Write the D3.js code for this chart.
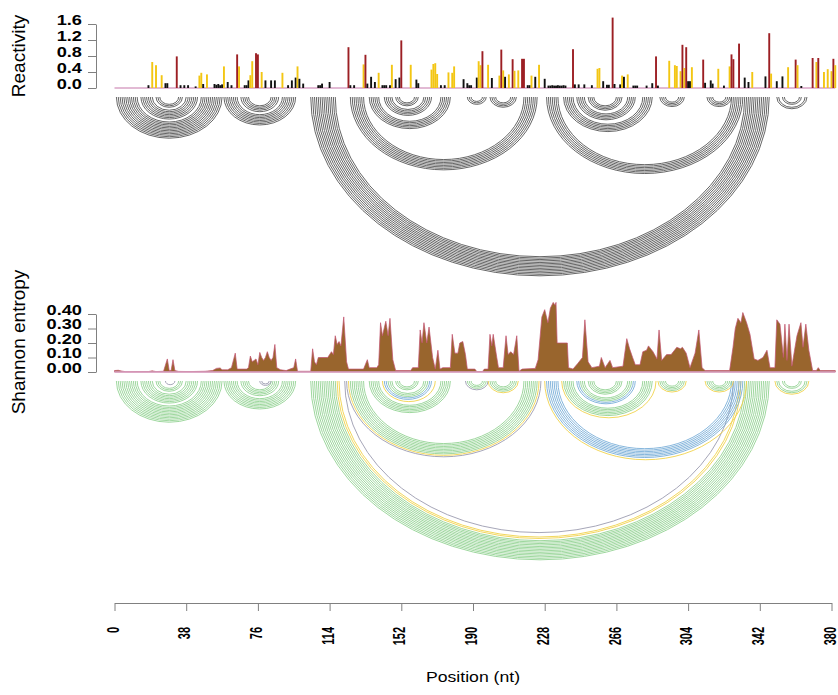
<!DOCTYPE html>
<html>
<head>
<meta charset="utf-8">
<script src="https://cdnjs.cloudflare.com/ajax/libs/d3/7.8.5/d3.min.js"></script>
<style>
  body { margin: 0; background: #fff; }
  text { font-family: "Liberation Sans", Arial, sans-serif; }
</style>
</head>
<body>
<div id="chart"></div>
<script>
var width = 838,
    height = 695,
    seqLength = 382;

// reactivity per position [nt, value]
var reactivity = [
  [18,0.07],[20,0.65],[22,0.57],[25,0.32],[27,0.12],[28,0.12],[33,0.79],[35,0.07],[37,0.07],[39,0.07],
  [43,0.04],[45,0.31],[46,0.38],[47,0.1],[49,0.34],[53,0.1],[54,0.08],[55,0.1],[56,0.07],[57,0.09],
  [58,0.54],[60,0.15],[62,0.07],[65,0.84],[66,0.54],[69,0.07],[70,0.07],[71,0.19],[72,0.32],[73,0.67],
  [75,0.87],[76,0.84],[78,0.4],[80,0.19],[83,0.19],[85,0.19],[89,0.38],[92,0.07],[94,0.19],[96,0.26],
  [97,0.54],[98,0.23],[100,0.11],[108,0.07],[109,0.07],[110,0.11],[114,0.15],[124,1.02],[125,0.07],[127,0.07],
  [132,0.59],[133,0.83],[134,0.11],[136,0.28],[138,0.15],[140,0.38],[142,0.07],[143,0.07],[144,0.07],[146,0.07],
  [147,0.58],[149,0.22],[151,0.26],[152,1.19],[157,0.58],[160,0.21],[161,0.12],[168,0.46],[169,0.6],[170,0.62],
  [171,0.35],[173,0.07],[175,0.07],[177,0.39],[179,0.38],[180,0.54],[185,0.22],[187,0.12],[188,0.07],[189,0.07],
  [192,0.26],[193,0.67],[194,0.57],[195,0.92],[198,0.58],[200,0.25],[204,0.31],[205,0.96],[206,0.44],[207,0.28],
  [209,0.34],[211,0.72],[212,0.43],[214,0.44],[216,0.73],[217,0.73],[219,0.07],[220,0.07],[221,0.31],[223,0.28],
  [225,0.58],[228,0.23],[230,0.06],[231,0.06],[232,0.07],[233,0.06],[234,0.06],[235,0.07],[236,0.06],[237,0.06],
  [238,0.07],[239,0.06],[243,0.97],[244,0.09],[246,0.09],[249,0.09],[253,0.07],[256,0.48],[257,0.5],[259,0.17],
  [261,0.08],[262,0.08],[264,1.76],[265,0.1],[268,0.09],[269,0.31],[270,0.28],[272,0.34],[275,0.06],[276,0.06],
  [277,0.06],[282,0.06],[285,0.12],[287,0.79],[288,0.06],[294,0.68],[297,0.57],[298,0.55],[300,0.42],[301,1.08],
  [302,0.5],[303,1.02],[304,0.17],[305,0.17],[306,0.52],[312,0.71],[313,0.13],[316,0.19],[317,0.11],[320,0.48],
  [323,0.06],[326,0.54],[327,0.84],[328,0.72],[331,1.11],[334,0.26],[336,0.15],[338,0.4],[345,0.29],[347,1.37],
  [348,0.36],[351,0.17],[354,0.29],[357,0.52],[361,0.71],[362,0.57],[364,0.05],[370,0.75],[372,0.65],[373,0.75],
  [376,0.4],[378,0.47],[380,0.42],[381,0.73],[382,0.57]
];

// shannon entropy [nt, value]
var entropy = [
  [0,0.01],[2,0.012],[4,0.006],[6,0.002],[18,0.003],[20,0.008],[22,0.003],[26,0.005],[28,0.09],[29,0.01],
  [30,0.01],[31,0.085],[32,0.01],[34,0.004],[40,0.003],[48,0.005],[52,0.01],[54,0.025],[56,0.028],[57,0.015],
  [60,0.015],[62,0.03],[64,0.13],[65,0.02],[67,0.02],[70,0.02],[71,0.03],[72,0.11],[73,0.07],[74,0.08],
  [75,0.09],[76,0.05],[77,0.135],[78,0.1],[79,0.08],[80,0.1],[81,0.14],[82,0.1],[83,0.08],[84,0.1],
  [85,0.19],[86,0.03],[88,0.015],[91,0.01],[93,0.02],[95,0.03],[96,0.09],[97,0.005],[104,0.005],[105,0.16],
  [106,0.07],[107,0.05],[108,0.1],[113,0.1],[114,0.12],[115,0.14],[116,0.12],[117,0.25],[118,0.19],[119,0.21],
  [120,0.18],[121.5,0.38],[123,0.07],[124,0.02],[132,0.02],[134,0.085],[135,0.03],[139,0.03],[140,0.05],[141,0.34],
  [142,0.25],[143.8,0.35],[145,0.25],[146,0.37],[147.5,0.085],[149,0.01],[157,0.01],[158,0.03],[161,0.03],[162,0.29],
  [163,0.2],[164,0.34],[165.5,0.2],[166.7,0.31],[168.6,0.1],[170,0.02],[171.4,0.15],[172.5,0.02],[174,0.03],[178,0.03],
  [179,0.26],[180.4,0.13],[182,0.13],[183,0.2],[184.6,0.21],[186,0.12],[187,0.02],[191,0.02],[192,0.003],[195,0.003],
  [196,0.02],[198,0.02],[199,0.26],[200,0.18],[200.7,0.26],[202.6,0.1],[203.5,0.03],[206,0.03],[207.5,0.25],[208.6,0.12],
  [210,0.14],[211.5,0.12],[213.2,0.25],[214.4,0.005],[216,0.02],[223,0.025],[224.5,0.085],[226.5,0.38],[228,0.43],[229.7,0.34],
  [231,0.44],[232.5,0.48],[233.5,0.46],[234,0.48],[234.6,0.2],[236,0.2],[240,0.2],[240.6,0.03],[243,0.02],[245.6,0.06],
  [248,0.1],[249.3,0.36],[251,0.07],[253,0.03],[257,0.04],[258,0.1],[260,0.03],[262.6,0.08],[264,0.03],[269.5,0.04],
  [271.5,0.23],[273,0.16],[274.6,0.1],[276,0.05],[278.5,0.05],[280,0.14],[282,0.15],[283,0.18],[285.4,0.14],[287.5,0.09],
  [288.6,0.29],[290,0.08],[292.6,0.12],[295,0.12],[298,0.17],[300,0.16],[301,0.17],[303,0.13],[305,0.03],[307.7,0.13],
  [309.7,0.29],[311.4,0.03],[313,0.01],[326,0.01],[327.8,0.17],[329,0.3],[330.4,0.37],[332,0.34],[333,0.41],[335,0.34],
  [336.8,0.26],[339,0.09],[341,0.08],[343.7,0.1],[345.8,0.15],[347.4,0.03],[350,0.03],[351,0.36],[352.7,0.33],[354.5,0.1],
  [355.3,0.33],[356.4,0.08],[357.5,0.33],[359,0.04],[361.7,0.25],[363.8,0.34],[364.9,0.17],[366.4,0.33],[368,0.15],[370,0.01],
  [372,0.01],[373,0.03],[374,0.01],[382,0.01]
];

// helices of the reference structure [i, j, length]
var topHelices = [
  [1,57,12],[14,44,7],[22,36,3],
  [58,96,8],[67,87,5],
  [104,347,14],
  [125,224,8],[135,178,6],[143,168,5],[149,161,3],
  [187,197,3],[199,213,4],
  [229,333,7],[238,285,6],[245,276,5],[251,269,4],
  [289,302,4],[314,327,4],
  [351,367,2],[354,364,2]
];

// helices of the ensemble comparison [i, j, length, class]
var bottomHelices = [
  [1,57,12,"g"],[14,44,7,"g"],[22,36,3,"g"],[27,32,1,"k"],
  [58,96,8,"g"],[67,87,5,"g"],[77,83,2,"k"],
  [104,347,14,"g"],[118,332,2,"y"],[122,328,1,"k"],
  [123,226,1,"k"],[124,225,1,"y"],
  [125,224,8,"g"],[135,178,6,"g"],[142,170,1,"y"],[143,168,2,"b"],[145,166,3,"g"],[149,161,3,"g"],
  [186,198,1,"k"],[187,197,3,"g"],[198,214,1,"y"],[199,213,4,"g"],
  [228,335,1,"y"],[229,333,7,"b"],[237,287,1,"y"],[238,285,6,"g"],[245,276,2,"b"],[247,274,3,"g"],[251,269,4,"g"],
  [288,303,1,"y"],[289,302,4,"g"],[313,328,1,"y"],[314,327,4,"g"],
  [350,368,1,"y"],[351,367,2,"g"],[354,364,2,"g"]
];

var positionTicks = [0, 38, 76, 114, 152, 190, 228, 266, 304, 342, 380];
var reactivityTicks = [0, 0.4, 0.8, 1.2, 1.6];
var entropyTicks = [0, 0.1, 0.2, 0.3, 0.4];

var x = d3.scaleLinear().domain([0, 380]).range([114.5, 831.5]);
var yR = d3.scaleLinear().domain([0, 1.6]).range([88, 24]);
var yE = d3.scaleLinear().domain([0, 0.4]).range([372, 314]);

var barColor = d3.scaleThreshold()
    .domain([0.3, 0.7])
    .range(["#111111", "#f3c613", "#9c1f24"]);
var pairColor = d3.scaleOrdinal()
    .domain(["g", "b", "y", "k"])
    .range(["#93d293", "#78aed8", "#f0d24c", "#9c9cb0"]);

var svg = d3.select("#chart").append("svg")
    .attr("width", width)
    .attr("height", height)
    .style("background", "#fff");

// expand a helix into its base pairs
function pairs(h) {
    var out = [];
    for (var k = 0; k < h[2]; k++) out.push({ i: h[0] + k, j: h[1] - k, c: h[3] });
    return out;
}

// half ellipse hanging below y0
function arcPath(d, y0) {
    var x0 = x(d.i), x1 = x(d.j),
        rx = (x1 - x0) / 2, ry = rx * 0.78;
    return "M" + x0 + "," + y0 + " A" + rx + "," + ry + " 0 0 0 " + x1 + "," + y0;
}

function yAxis(scale, ticks, fmt, label, labelY) {
    var g = svg.append("g")
        .attr("transform", "translate(96,0)")
        .call(d3.axisLeft(scale).tickValues(ticks).tickFormat(d3.format(fmt)).tickSize(8).tickSizeOuter(0));
    g.select(".domain").attr("stroke", "#808080");
    g.selectAll(".tick line").attr("stroke", "#808080");
    g.selectAll(".tick text")
        .attr("x", -10.8)
        .attr("dy", "0.02em")
        .attr("transform", "scale(1.3,1)")
        .style("font-size", "14px")
        .style("font-weight", "bold")
        .attr("fill", "#000");
    svg.append("text")
        .attr("transform", "translate(25," + labelY + ") rotate(-90)")
        .attr("text-anchor", "middle")
        .style("font-size", "19px")
        .text(label);
}

// ---- reactivity panel
yAxis(yR, reactivityTicks, ".1f", "Reactivity", 56);

svg.append("line")
    .attr("x1", x(0)).attr("x2", x(seqLength))
    .attr("y1", yR(0)).attr("y2", yR(0))
    .attr("stroke", "#d9a3c6").attr("stroke-width", 1.3);

svg.append("g").selectAll("rect")
    .data(reactivity)
    .enter().append("rect")
    .attr("x", function(d) { return x(d[0]) - 0.95; })
    .attr("width", 1.9)
    .attr("y", function(d) { return yR(d[1]); })
    .attr("height", function(d) { return yR(0) - yR(d[1]); })
    .attr("fill", function(d) { return barColor(d[1]); });

svg.append("g").selectAll("path")
    .data(d3.merge(topHelices.map(pairs)))
    .enter().append("path")
    .attr("d", function(d) { return arcPath(d, 97); })
    .attr("fill", "none")
    .attr("stroke", "#555555")
    .attr("stroke-width", 0.9);

// ---- entropy panel
yAxis(yE, entropyTicks, ".2f", "Shannon entropy", 342);

var area = d3.area()
    .x(function(d) { return x(d[0]); })
    .y0(yE(0))
    .y1(function(d) { return yE(d[1]); });

svg.append("path")
    .datum(entropy)
    .attr("d", area)
    .attr("fill", "#99652d")
    .attr("stroke", "#c2506e")
    .attr("stroke-width", 0.7);

svg.append("line")
    .attr("x1", x(0)).attr("x2", x(seqLength))
    .attr("y1", yE(0)).attr("y2", yE(0))
    .attr("stroke", "#d9a3c6").attr("stroke-width", 1.3);

svg.append("g").selectAll("path")
    .data(d3.merge(bottomHelices.map(pairs)))
    .enter().append("path")
    .attr("d", function(d) { return arcPath(d, 381); })
    .attr("fill", "none")
    .attr("stroke", function(d) { return pairColor(d.c); })
    .attr("stroke-width", 0.9);

// ---- position axis
var gx = svg.append("g")
    .attr("transform", "translate(0,603)")
    .call(d3.axisBottom(x).tickValues(positionTicks).tickSize(8).tickSizeOuter(0));
gx.select(".domain").attr("stroke", "#808080");
gx.selectAll(".tick line").attr("stroke", "#808080");
gx.selectAll(".tick text")
    .attr("x", 0).attr("y", 0)
    .attr("dy", "0.36em")
    .attr("text-anchor", "end")
    .attr("transform", "translate(-2.5,24) scale(1.55,1) rotate(-90)")
    .style("font-size", "11px")
    .style("font-weight", "bold")
    .attr("fill", "#000");

svg.append("text")
    .attr("transform", "translate(" + x(190) + ",682) scale(1.26,1)")
    .attr("text-anchor", "middle")
    .style("font-size", "14px")
    .text("Position (nt)");
</script>
</body>
</html>
